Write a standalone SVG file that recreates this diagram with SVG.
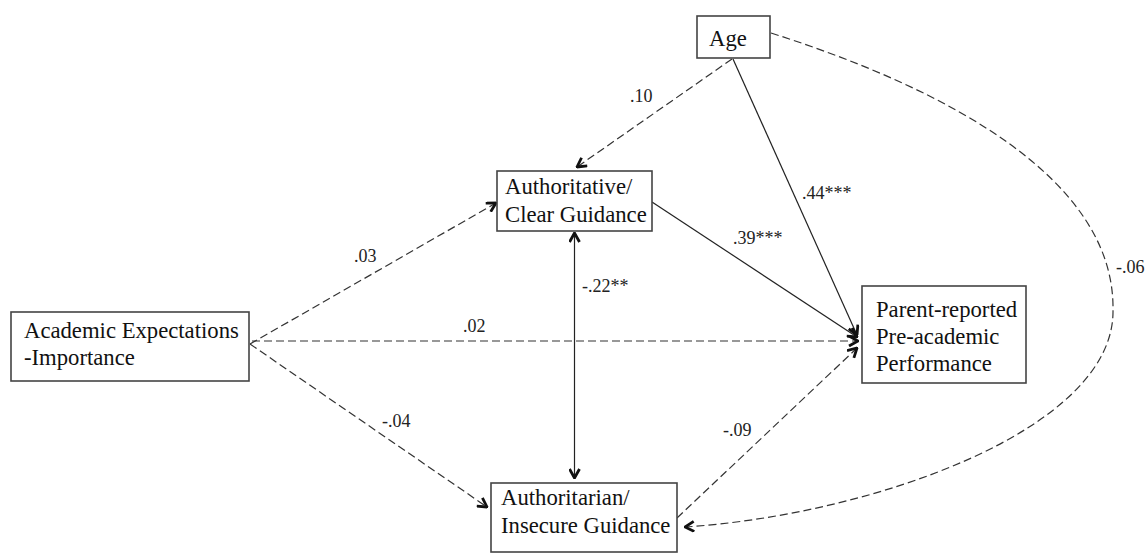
<svg xmlns="http://www.w3.org/2000/svg" width="1147" height="554" viewBox="0 0 1147 554">
<style>
.box{fill:#fff;stroke:#444;stroke-width:1.6}
.nt{font-family:"Liberation Serif","Times New Roman",serif;font-size:22.7px;fill:#111}
.lb{font-family:"Liberation Serif","Times New Roman",serif;font-size:18px;fill:#222}
.solid{fill:none;stroke:#222;stroke-width:1.2}
.dash{fill:none;stroke:#333;stroke-width:1.2;stroke-dasharray:8,4}
</style>
<defs>
<marker id="ah" viewBox="0 0 12 12" refX="11" refY="6" markerWidth="12" markerHeight="12" markerUnits="userSpaceOnUse" orient="auto-start-reverse">
<path d="M2,1 L11,6 L2,11" fill="none" stroke="#111" stroke-width="2.8" stroke-linejoin="miter"/>
</marker>
</defs>
<rect width="1147" height="554" fill="#fff"/>
<g id="connectors">
<path class="dash" d="M732,59 L577,167" marker-end="url(#ah)"/>
<path class="solid" d="M733,59 L857,335" marker-end="url(#ah)"/>
<path class="solid" d="M652,202 L857,337" marker-end="url(#ah)"/>
<path class="dash" d="M250,344 L496,203" marker-end="url(#ah)"/>
<path class="dash" d="M252,341 L858,341" marker-end="url(#ah)"/>
<path class="dash" d="M250,344 L487,507" marker-end="url(#ah)"/>
<path class="solid" d="M574.5,233 L574.5,478" marker-start="url(#ah)" marker-end="url(#ah)"/>
<path class="dash" d="M677,518 L857,348" marker-end="url(#ah)"/>
<path class="dash" d="M771,33 C950,90 1115,180 1113,310 C1115,430 870,515 685,527" marker-end="url(#ah)"/>
</g>
<g id="labels">
<text class="lb" x="630" y="102">.10</text>
<text class="lb" x="354" y="262">.03</text>
<text class="lb" x="463" y="332">.02</text>
<text class="lb" x="382" y="427">-.04</text>
<text class="lb" x="733" y="244">.39***</text>
<text class="lb" x="582" y="292">-.22**</text>
<text class="lb" x="802" y="199">.44***</text>
<text class="lb" x="1116" y="273">-.06</text>
<text class="lb" x="723" y="436">-.09</text>
</g>
<g id="age">
<rect class="box" x="697" y="16" width="73" height="42"/>
<text class="nt" x="709" y="46">Age</text>
</g>
<g id="authoritative">
<rect class="box" x="497" y="171" width="155" height="60"/>
<text class="nt" x="505" y="194">Authoritative/</text>
<text class="nt" x="505" y="222">Clear Guidance</text>
</g>
<g id="academic">
<rect class="box" x="11" y="312" width="238" height="69"/>
<text class="nt" x="24" y="338">Academic Expectations</text>
<text class="nt" x="24" y="365">-Importance</text>
</g>
<g id="performance">
<rect class="box" x="862" y="286" width="164" height="97"/>
<text class="nt" x="876" y="317">Parent-reported</text>
<text class="nt" x="876" y="344">Pre-academic</text>
<text class="nt" x="876" y="371">Performance</text>
</g>
<g id="authoritarian">
<rect class="box" x="491" y="483" width="186" height="69"/>
<text class="nt" x="501" y="505">Authoritarian/</text>
<text class="nt" x="501" y="533">Insecure Guidance</text>
</g>
</svg>
